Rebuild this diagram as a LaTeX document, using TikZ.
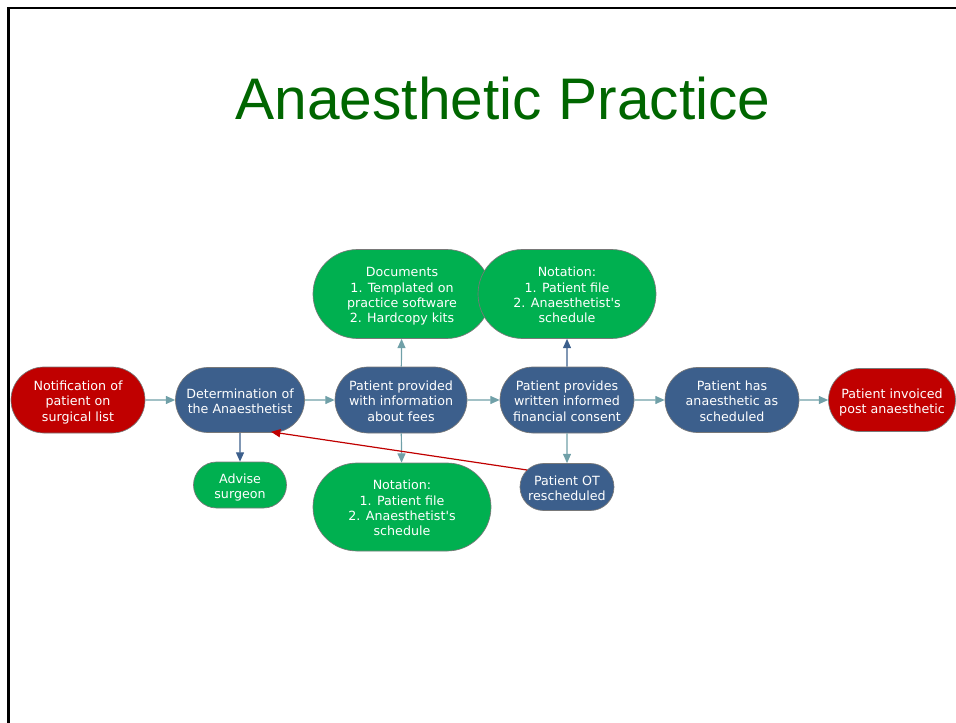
\documentclass[tikz,border=0pt]{standalone}
\usepackage{fontspec}
\newfontfamily\nodefont{DejaVu Sans}
\newfontfamily\titlefont{Liberation Sans}
\usetikzlibrary{shapes.misc,arrows.meta,calc}
\definecolor{cred}{RGB}{192,0,0}
\definecolor{cblue}{RGB}{60,95,140}
\definecolor{cgreen}{RGB}{0,176,80}
\definecolor{cteal}{RGB}{112,160,168}
\definecolor{cborder}{RGB}{120,120,120}
\definecolor{ctitle}{RGB}{0,102,0}
\newcommand\tx[1]{\raisebox{-2pt}[\height][\depth]{\begin{tabular}{@{}c@{}}#1\end{tabular}}}
\tikzset{
  box/.style={rounded rectangle, draw=cborder, line width=0.5pt, text=white, inner sep=0pt,
    font=\nodefont\fontsize{9.5}{11.5}\selectfont},
  redbox/.style={box, fill=cred},
  bluebox/.style={box, fill=cblue},
  greenbox/.style={box, fill=cgreen},
  flow/.style={draw=cteal, line width=0.9pt, -{Triangle[length=7pt,width=6pt]}},
  bflow/.style={draw=cblue, line width=0.9pt, -{Triangle[length=7pt,width=6pt]}},
  rflow/.style={draw=cred, line width=0.9pt, -{Triangle[length=7pt,width=6pt]}},
}
\begin{document}
\begin{tikzpicture}[x=0.75pt,y=-0.75pt]
\useasboundingbox (0,0) rectangle (956,723);
\draw[line width=1.6pt, black] (8.5,723) -- (8.5,8) -- (956,8);
\node[text=ctitle, font=\titlefont\fontsize{44}{50}\selectfont, anchor=base] (title) at (503,120) {Anaesthetic Practice};

\node[redbox, minimum width=100.5pt, minimum height=49.5pt] (notif) at (78,400) {\tx{Notification of\\patient on\\surgical list}};
\node[bluebox, minimum width=96.75pt, minimum height=48.75pt] (det) at (240,400) {\tx{Determination of\\the Anaesthetist}};
\node[bluebox, minimum width=99pt, minimum height=49.5pt] (info) at (401,400) {\tx{Patient provided\\with information\\about fees}};
\node[bluebox, minimum width=100.5pt, minimum height=49.5pt] (cons) at (567,400) {\tx{Patient provides\\written informed\\financial consent}};
\node[bluebox, minimum width=100.5pt, minimum height=48.75pt] (has) at (732,400) {\tx{Patient has\\anaesthetic as\\scheduled}};
\node[redbox, minimum width=95.25pt, minimum height=47.25pt] (inv) at (892,400) {\tx{Patient invoiced\\post anaesthetic}};
\node[greenbox, minimum width=69.75pt, minimum height=34.5pt] (adv) at (240,485) {\tx{Advise\\surgeon}};
\node[greenbox, minimum width=133.5pt, minimum height=66.75pt] (docs) at (402,294) {\tx{Documents\\1. Templated on\\practice software\\2. Hardcopy kits}};
\node[greenbox, minimum width=133.5pt, minimum height=66.75pt] (nottop) at (567,294) {\tx{Notation:\\1. Patient file\\2. Anaesthetist's\\schedule}};
\node[greenbox, minimum width=133.5pt, minimum height=66pt] (notbot) at (402,507) {\tx{Notation:\\1. Patient file\\2. Anaesthetist's\\schedule}};
\node[bluebox, minimum width=70.5pt, minimum height=35.25pt] (ot) at (567,487) {\tx{Patient OT\\rescheduled}};

\draw[flow] (notif) -- (det);
\draw[flow] (det) -- (info);
\draw[flow] (info) -- (cons);
\draw[flow] (cons) -- (has);
\draw[flow] (has) -- (inv);
\draw[bflow] (det) -- (adv);
\draw[flow] (info) -- (docs);
\draw[flow] (info) -- (notbot);
\draw[bflow] (cons) -- (nottop);
\draw[flow] (cons) -- (ot);
\draw[rflow] ($(ot.center)+(-40,-17)$) -- ($(det.south)+(31,-1)$);
\end{tikzpicture}
\end{document}
